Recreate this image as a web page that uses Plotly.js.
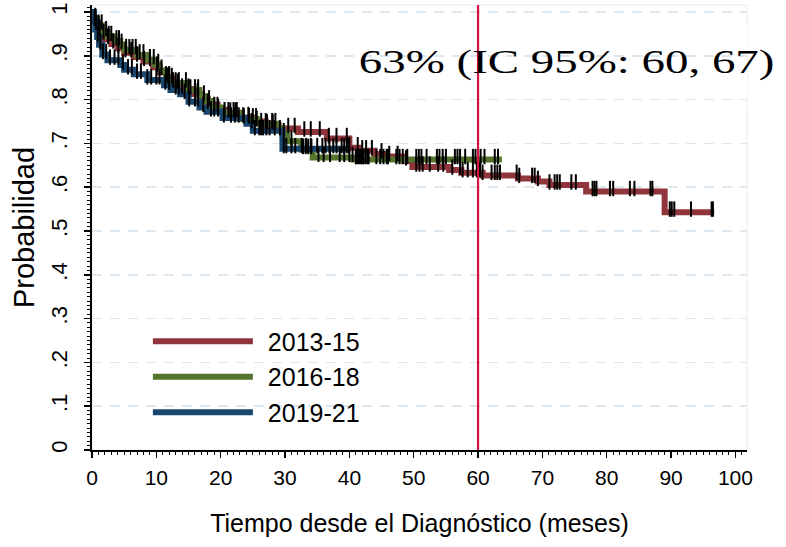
<!DOCTYPE html>
<html>
<head>
<meta charset="utf-8">
<script src="https://cdn.plot.ly/plotly-3.0.1.min.js"></script>
<style>
html,body{margin:0;padding:0;background:#ffffff;}
#chart{width:786px;height:547px;}
</style>
</head>
<body>
<div id="chart"></div>
<script>
// ---------- data ----------
const seriesNames  = ['2013-15', '2016-18', '2019-21'];
const seriesColors = ['#90353b', '#55752f', '#1a476f'];

// Kaplan-Meier steps: time (months) and survival probability
const time1315 = [0, 0.3, 0.6, 1.0, 1.5, 2.0, 3.0, 4.0, 5.0, 6.5, 8.0, 9.5, 10.5, 11.5, 12.5, 14.0, 15.5, 17.0, 18.0, 19.5, 21.0, 23.0, 25.0, 27.0, 29.0, 32.0, 36.5, 40.0, 41.6, 43.9, 45.5, 48.5, 49.8, 55.5, 57.4, 60.7, 66.2, 69.3, 71.1, 76.8, 89.0, 96.7];
const surv1315 = [1, 0.985, 0.97, 0.958, 0.948, 0.938, 0.927, 0.917, 0.907, 0.897, 0.887, 0.874, 0.862, 0.848, 0.835, 0.824, 0.813, 0.801, 0.789, 0.777, 0.769, 0.759, 0.75, 0.742, 0.734, 0.726, 0.711, 0.69, 0.683, 0.676, 0.67, 0.66, 0.646, 0.639, 0.633, 0.627, 0.62, 0.613, 0.605, 0.59, 0.543, 0.543];

const time1618 = [0, 0.3, 0.8, 1.6, 2.4, 3.5, 4.4, 5.0, 7.0, 8.5, 9.7, 10.5, 11.5, 12.2, 14.8, 16.7, 17.5, 18.7, 20.3, 22.9, 25.6, 28.7, 29.6, 30.3, 32.5, 34.3, 40.6, 63.7];
const surv1618 = [1, 0.985, 0.97, 0.955, 0.944, 0.934, 0.926, 0.914, 0.902, 0.891, 0.88, 0.867, 0.852, 0.838, 0.822, 0.808, 0.797, 0.782, 0.77, 0.756, 0.745, 0.735, 0.722, 0.705, 0.686, 0.668, 0.663, 0.663];

const time1921 = [0, 0.3, 0.5, 0.8, 1.1, 1.6, 2.4, 4.4, 5.0, 6.5, 8.6, 11.2, 12.2, 13.7, 15.0, 16.7, 17.8, 20.3, 24.0, 25.0, 29.6, 40.0];
const surv1921 = [1, 0.98, 0.96, 0.943, 0.925, 0.903, 0.89, 0.879, 0.868, 0.858, 0.845, 0.833, 0.822, 0.812, 0.795, 0.782, 0.772, 0.758, 0.745, 0.729, 0.688, 0.688];

// censoring times (months)
const cens1315 = [0.6, 1.2, 1.8, 2.5, 3.3, 4.1, 5.2, 6.1, 7.0, 8.1, 9.0, 10.1, 11.8, 12.4, 13.3, 14.0, 15.0, 16.4, 18.0, 19.6, 21.5, 22.3, 24.3, 25.6, 27.2, 28.1, 30.5, 31.5, 33.0, 34.0, 35.4, 36.8, 38.0, 39.6, 40.0, 41.3, 42.0, 42.6, 43.5, 45.0, 46.2, 47.5, 48.8, 50.4, 50.9, 51.4, 52.5, 53.8, 54.6, 56.0, 57.2, 57.6, 58.4, 59.2, 59.8, 60.3, 60.7, 62.1, 62.6, 63.0, 63.4, 66.0, 66.4, 68.4, 68.8, 69.3, 71.1, 71.9, 72.3, 72.7, 74.5, 75.2, 77.8, 78.1, 78.4, 80.5, 81.0, 83.6, 84.3, 86.8, 87.1, 89.8, 90.1, 90.5, 93.1, 96.3, 96.5];
const cens1618 = [0.5, 1.0, 1.5, 2.2, 2.6, 3.0, 3.8, 4.2, 4.6, 5.3, 5.8, 6.3, 6.8, 7.4, 8.0, 9.0, 9.6, 10.3, 10.8, 11.5, 12.0, 12.6, 13.0, 13.5, 14.6, 15.3, 16.0, 16.5, 17.4, 18.2, 19.0, 19.5, 20.6, 21.2, 22.0, 22.5, 23.6, 24.4, 25.0, 25.5, 26.3, 27.0, 28.0, 28.5, 29.8, 31.0, 32.8, 33.2, 33.6, 34.1, 35.2, 36.0, 37.0, 38.5, 39.2, 40.0, 40.5, 41.0, 41.2, 41.5, 41.8, 42.0, 42.2, 42.5, 42.8, 43.0, 44.2, 44.8, 45.3, 45.8, 46.0, 47.3, 47.8, 48.3, 49.0, 50.4, 50.8, 51.2, 52.0, 53.6, 54.0, 54.5, 55.0, 56.4, 56.8, 57.2, 58.0, 59.2, 59.6, 60.0, 60.4, 61.0, 62.6, 63.1];
const cens1921 = [0.4, 0.9, 1.3, 1.7, 2.2, 2.8, 3.5, 4.1, 4.8, 5.6, 6.2, 7.0, 7.6, 8.6, 9.2, 10.0, 10.5, 11.4, 12.0, 13.0, 13.5, 14.4, 15.1, 16.0, 16.5, 17.3, 18.5, 19.0, 19.6, 20.5, 21.6, 22.2, 22.8, 23.5, 24.8, 25.3, 26.0, 26.3, 26.6, 27.1, 27.6, 28.4, 29.2, 29.8, 30.2, 31.0, 31.6, 32.6, 33.3, 34.0, 35.0, 35.8, 36.3, 36.9, 37.5, 38.0, 38.8, 39.2, 39.6, 39.9];

// axes / labels
const xTickVals = [0, 10, 20, 30, 40, 50, 60, 70, 80, 90, 100];
const yTickVals = [0, 0.1, 0.2, 0.3, 0.4, 0.5, 0.6, 0.7, 0.8, 0.9, 1];
const yTickText = ['0', '.1', '.2', '.3', '.4', '.5', '.6', '.7', '.8', '.9', '1'];
const markTime  = 60;
const noteText  = '63% (IC 95%: 60, 67)';
const xTitle    = 'Tiempo desde el Diagnóstico (meses)';
const yTitle    = 'Probabilidad';

// ---------- build traces ----------
const stepTimes = [time1315, time1618, time1921];
const stepSurv  = [surv1315, surv1618, surv1921];
const censTimes = [cens1315, cens1618, cens1921];

function survAt(times, surv, t) {
  let s = surv[0];
  for (let i = 0; i < times.length; i++) {
    if (times[i] <= t) s = surv[i]; else break;
  }
  return s;
}

const data = [];
for (let k = 0; k < 3; k++) {
  data.push({
    type: 'scatter', mode: 'lines', name: seriesNames[k],
    x: stepTimes[k], y: stepSurv[k],
    line: {shape: 'hv', color: seriesColors[k], width: 6},
    hoverinfo: 'skip'
  });
}
for (let k = 0; k < 3; k++) {
  data.push({
    type: 'scatter', mode: 'markers', showlegend: false,
    x: censTimes[k],
    y: censTimes[k].map(t => survAt(stepTimes[k], stepSurv[k], t) + 0.007),
    marker: {symbol: 'line-ns', size: 11, color: '#000', line: {color: '#000', width: 2}},
    hoverinfo: 'skip'
  });
}

const sans = 'Liberation Sans, Arial, sans-serif';

const layout = {
  width: 786, height: 547,
  margin: {l: 92, r: 39, t: 5, b: 97},
  paper_bgcolor: '#fff', plot_bgcolor: '#fff',
  showlegend: true,
  legend: {
    x: 0.0853, xanchor: 'left', y: 0.2956, yanchor: 'top',
    font: {family: sans, size: 25, color: '#000'},
    bgcolor: 'rgba(0,0,0,0)', itemwidth: 110, tracegroupgap: 0
  },
  xaxis: {
    range: [0, 101.8], tickvals: xTickVals, ticks: 'outside', ticklen: 6, tickwidth: 1.5, tickcolor: '#000',
    showline: true, linecolor: '#000', linewidth: 2, showgrid: false, zeroline: false,
    minor: {dtick: 1, ticks: 'outside', ticklen: 3, tickwidth: 1, tickcolor: '#000'},
    tickfont: {family: sans, size: 21, color: '#000'}, ticklabelstandoff: 2,
    title: {text: xTitle, font: {family: sans, size: 25, color: '#000'}, standoff: 26}
  },
  yaxis: {
    range: [0, 1.016], tickvals: yTickVals, ticktext: yTickText, tickangle: -90,
    ticks: 'outside', ticklen: 6, tickwidth: 1.5, tickcolor: '#000',
    showline: true, linecolor: '#000', linewidth: 2, zeroline: false,
    showgrid: true, gridcolor: '#dde7ef', gridwidth: 1.5, griddash: '10px,8px',
    minor: {dtick: 0.01, ticks: 'outside', ticklen: 3, tickwidth: 1, tickcolor: '#000', showgrid: false},
    tickfont: {family: sans, size: 22, color: '#000'}, ticklabelstandoff: 8,
    title: {text: yTitle, font: {family: sans, size: 29, color: '#000'}, standoff: 4}
  },
  shapes: [
    {type: 'rect', xref: 'paper', yref: 'paper', x0: 0, x1: 1, y0: 0, y1: 1, line: {color: '#e4ebf2', width: 1}, layer: 'below'},
    {type: 'rect', xref: 'paper', yref: 'paper', x0: 0.356, x1: 1, y0: 0.773, y1: 0.957, fillcolor: '#fff', line: {width: 0}, layer: 'between'},
    {type: 'line', xref: 'x', yref: 'paper', x0: markTime, x1: markTime, y0: 0, y1: 1, line: {color: '#d4143e', width: 2.2}, layer: 'above'}
  ],
  annotations: [
    {xref: 'paper', yref: 'paper', x: 0.7237, y: 0.8715, xanchor: 'center', yanchor: 'middle',
     text: noteText, showarrow: false,
     font: {family: 'Liberation Serif, Times New Roman, serif', size: 34, color: '#000'}}
  ]
};

Plotly.newPlot('chart', data, layout, {staticPlot: true, displayModeBar: false}).then(gd => {
  gd.querySelectorAll('.annotation-text').forEach(el => {
    el.style.transformBox = 'fill-box';
    el.style.transformOrigin = 'center';
    el.style.transform = 'scaleX(1.38)';
  });
  gd.querySelectorAll('.legendlines path').forEach(p => p.setAttribute('d', 'M5,0h100'));
});
</script>
</body>
</html>
